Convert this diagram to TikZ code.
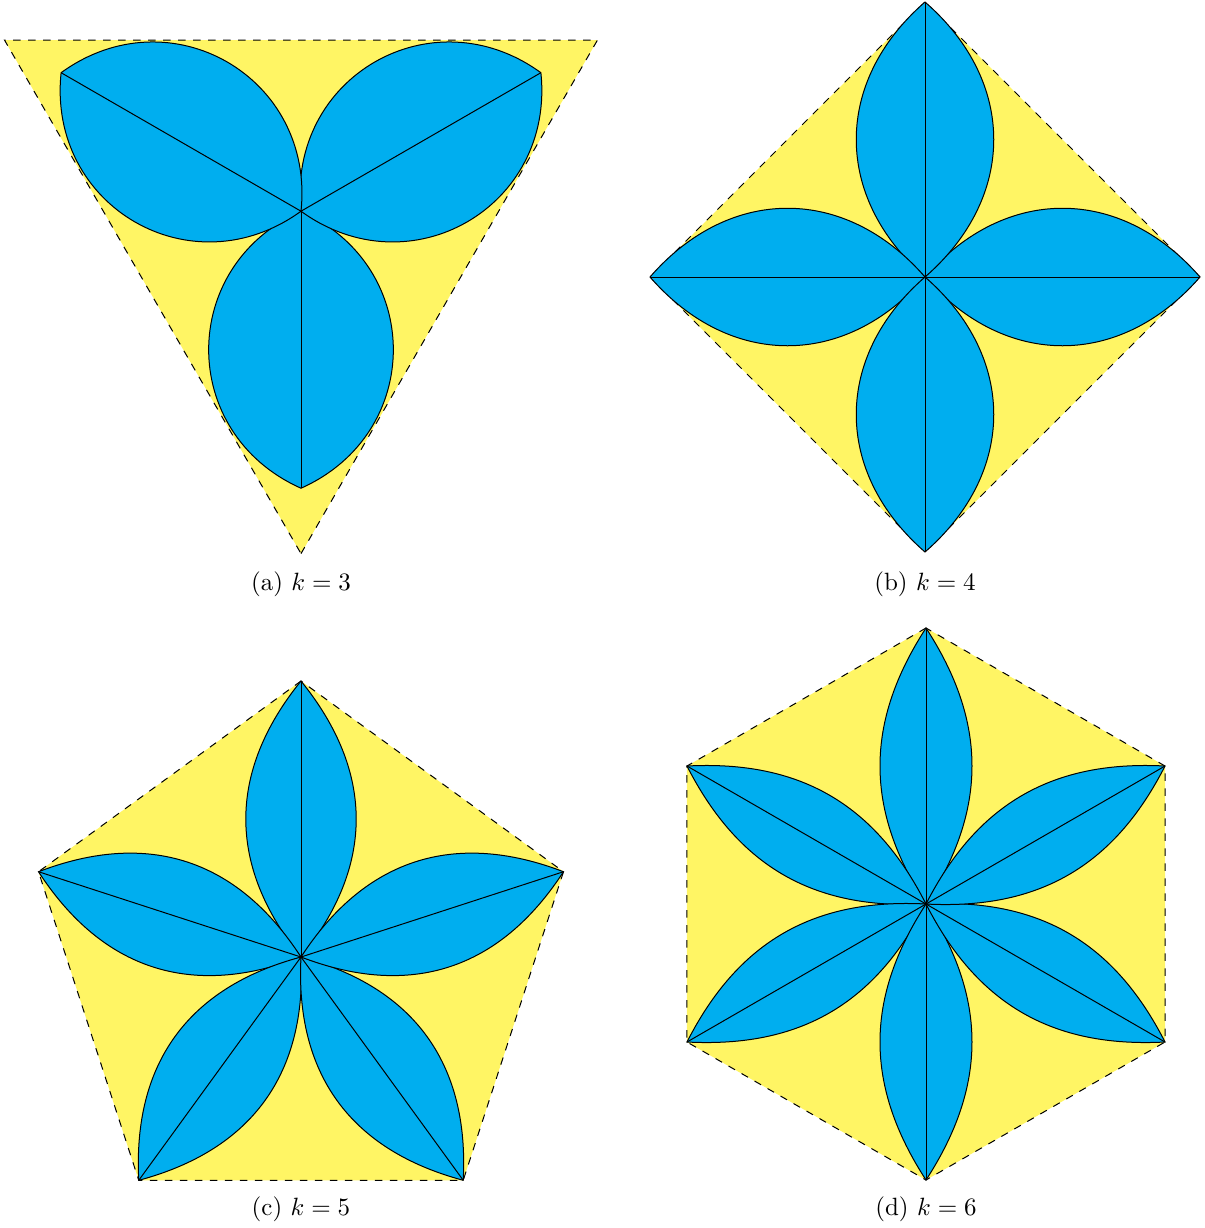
\documentclass[tikz,border=0pt]{standalone}
\usetikzlibrary{calc}
\definecolor{petalblue}{RGB}{0,174,239}
\definecolor{polyyellow}{RGB}{255,245,100}
\tikzset{
  polyline/.style={dashed, fill=polyyellow, line width=0.4pt},
  petal/.style={fill=petalblue, draw=black, line width=0.4pt},
  axisline/.style={draw=black, line width=0.4pt},
  caption/.style={font=\normalsize}
}
% #1 cx, #2 cy (image), #3 polygon radius, #4 start angle, #5 k, #6 petal length, #7 end tangent angle
\newcommand{\flowerpanel}[7]{%
  \begin{scope}[shift={(#1,-#2)}]
    \draw[polyline] (#4:#3) \foreach \i in {1,...,#5}{ -- ({#4+360*\i/#5}:#3)} -- cycle;
    \foreach \i in {1,...,#5}{
      \pgfmathsetmacro\ang{#4+360*(\i-1)/#5}
      \pgfmathsetmacro\tht{#7}
      \pgfmathsetmacro\dd{4*#6/(3*#5*sin(\tht))}
      \draw[petal] (0,0) .. controls +(\ang+\tht:\dd) and +(\ang+180-\tht:\dd) .. (\ang:#6)
        .. controls +(\ang+180+\tht:\dd) and +(\ang-\tht:\dd) .. (0,0) -- cycle;
    }
    \foreach \i in {1,...,#5}{
      \pgfmathsetmacro\ang{#4+360*(\i-1)/#5}
      \draw[axisline] (0,0) -- (\ang:#6);
    }
  \end{scope}}
\begin{document}
\begin{tikzpicture}[x=0.4pt,y=0.4pt]
  \useasboundingbox (0,0) rectangle (1205,-1228);
  \flowerpanel{301}{211.2}{342.4}{-90}{3}{277}{66}
  \flowerpanel{925}{277}{275}{0}{4}{275}{49}
  \flowerpanel{301}{957}{276}{90}{5}{276}{39}
  \flowerpanel{926}{904}{276}{90}{6}{276}{33}
  \node[caption] (capa) at (301,-584) {(a) $k=3$};
  \node[caption] (capb) at (925,-584) {(b) $k=4$};
  \node[caption] (capc) at (301,-1209) {(c) $k=5$};
  \node[caption] (capd) at (926,-1209) {(d) $k=6$};
\end{tikzpicture}
\end{document}
